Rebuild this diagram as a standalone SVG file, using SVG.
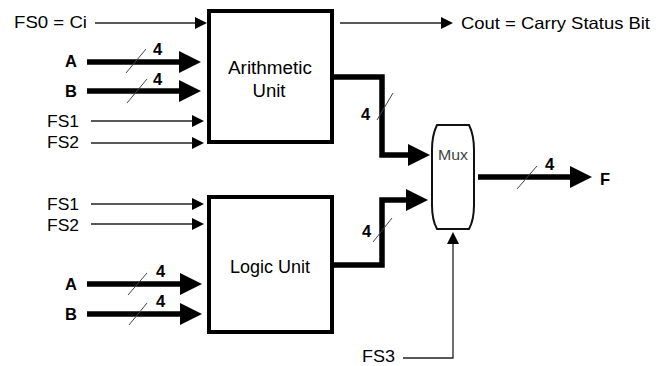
<svg xmlns="http://www.w3.org/2000/svg" width="662" height="366" viewBox="0 0 662 366">
<defs>
<style>
text{font-family:"Liberation Sans",Arial,sans-serif;fill:#000}
.lbl{font-size:16.5px}
.bold{font-size:16.5px;font-weight:bold}
.box{fill:#fff;stroke:#000;stroke-width:4}
.thin{fill:none;stroke:#222;stroke-width:1.3}
.thick{fill:none;stroke:#000;stroke-width:5.5}
.slash{stroke:#444;stroke-width:1}
</style>
<marker id="ah" markerUnits="userSpaceOnUse" markerWidth="12" markerHeight="12" refX="6" refY="6" orient="auto">
<path d="M0,0 L12,6 L0,12 Z" fill="#000"/>
</marker>
<marker id="ahb" markerUnits="userSpaceOnUse" markerWidth="22" markerHeight="22" refX="11" refY="11" orient="auto">
<path d="M0,0 L22,11 L0,22 Z" fill="#000"/>
</marker>
</defs>
<rect width="662" height="366" fill="#fff"/>
<g id="connectors">
<line class="thin" x1="95" y1="23" x2="201" y2="23" marker-end="url(#ah)"/>
<line class="thick" x1="87" y1="62" x2="190" y2="62" marker-end="url(#ahb)"/>
<line class="thick" x1="87" y1="91" x2="190" y2="91" marker-end="url(#ahb)"/>
<line class="thin" x1="91" y1="121" x2="198" y2="121" marker-end="url(#ah)"/>
<line class="thin" x1="91" y1="143" x2="198" y2="143" marker-end="url(#ah)"/>
<line class="thin" x1="91" y1="204" x2="198" y2="204" marker-end="url(#ah)"/>
<line class="thin" x1="91" y1="224" x2="198" y2="224" marker-end="url(#ah)"/>
<line class="thick" x1="87" y1="284" x2="191" y2="284" marker-end="url(#ahb)"/>
<line class="thick" x1="87" y1="314" x2="191" y2="314" marker-end="url(#ahb)"/>
<line class="thin" x1="340" y1="23" x2="447" y2="23" marker-end="url(#ah)"/>
<polyline class="thick" points="334,77 382,77 382,155 419,155" marker-end="url(#ahb)"/>
<polyline class="thick" points="334,265 382,265 382,200 417,200" marker-end="url(#ahb)"/>
<line class="thick" x1="478" y1="177" x2="581" y2="177" marker-end="url(#ahb)"/>
<polyline class="thin" points="403,358 453,358 453,238" marker-end="url(#ah)"/>
<line class="slash" x1="126" y1="73" x2="146" y2="49"/>
<line class="slash" x1="127" y1="103" x2="147" y2="79"/>
<line class="slash" x1="128" y1="295" x2="147" y2="273"/>
<line class="slash" x1="129" y1="325" x2="147" y2="303"/>
<line class="slash" x1="377" y1="120" x2="393" y2="93"/>
<line class="slash" x1="373" y1="242" x2="392" y2="218"/>
<line class="slash" x1="517" y1="189" x2="537" y2="166"/>
</g>
<g id="arithmetic-unit">
<rect class="box" x="209" y="11" width="123" height="131"/>
<text x="270" y="74" style="font-size:17.5px" text-anchor="middle" textLength="84" lengthAdjust="spacingAndGlyphs">Arithmetic</text>
<text x="269" y="97" style="font-size:17.5px" text-anchor="middle" textLength="33" lengthAdjust="spacingAndGlyphs">Unit</text>
</g>
<g id="logic-unit">
<rect class="box" x="209" y="197" width="123" height="135"/>
<text x="230" y="273" style="font-size:17.5px" textLength="80" lengthAdjust="spacingAndGlyphs">Logic Unit</text>
</g>
<g id="mux">
<path d="M437,125 L469,125 Q474,135 474,150 L474,205 Q474,220 469,229 L437,229 Q432,220 432,205 L432,150 Q432,135 437,125 Z" fill="#fff" stroke="#111" stroke-width="2"/>
<text x="438" y="160" style="font-size:15px;fill:#444" textLength="30" lengthAdjust="spacingAndGlyphs">Mux</text>
</g>
<g id="labels">
<text class="lbl" x="14" y="28" textLength="73" lengthAdjust="spacingAndGlyphs">FS0 = Ci</text>
<text class="bold" x="65" y="67">A</text>
<text class="bold" x="65" y="97">B</text>
<text class="lbl" x="47" y="127" textLength="32" lengthAdjust="spacingAndGlyphs">FS1</text>
<text class="lbl" x="47" y="148" textLength="32" lengthAdjust="spacingAndGlyphs">FS2</text>
<text class="lbl" x="47" y="210" textLength="32" lengthAdjust="spacingAndGlyphs">FS1</text>
<text class="lbl" x="47" y="231" textLength="32" lengthAdjust="spacingAndGlyphs">FS2</text>
<text class="bold" x="65" y="290">A</text>
<text class="bold" x="65" y="320">B</text>
<text class="bold" x="153" y="55">4</text>
<text class="bold" x="153" y="85">4</text>
<text class="bold" x="156" y="277">4</text>
<text class="bold" x="156" y="307">4</text>
<text class="bold" x="361" y="120">4</text>
<text class="bold" x="362" y="237">4</text>
<text class="bold" x="545" y="170">4</text>
<text class="bold" x="600" y="185">F</text>
<text class="lbl" x="461" y="29" textLength="189" lengthAdjust="spacingAndGlyphs">Cout = Carry Status Bit</text>
<text class="lbl" x="362" y="362" textLength="33" lengthAdjust="spacingAndGlyphs">FS3</text>
</g>
</svg>
